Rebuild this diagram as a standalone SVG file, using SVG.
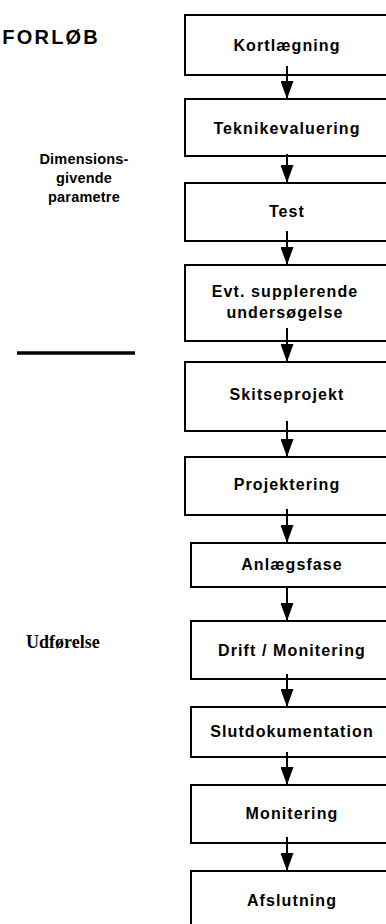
<svg xmlns="http://www.w3.org/2000/svg" width="386" height="924" viewBox="0 0 386 924">
<style>
.box{fill:#fff;stroke:#000;stroke-width:2}
.lbl{font-family:"Liberation Sans",Arial,sans-serif;font-weight:bold;font-size:16px;letter-spacing:1.1px;text-anchor:middle;fill:#000}
.side{font-family:"Liberation Sans",Arial,sans-serif;font-weight:bold;font-size:14.5px;letter-spacing:0.2px;text-anchor:middle;fill:#000}
.conn{stroke:#000;stroke-width:2;fill:none;marker-end:url(#ah)}
</style>
<defs>
<marker id="ah" markerUnits="userSpaceOnUse" viewBox="0 -6.5 18 13" refX="18" refY="0" markerWidth="18" markerHeight="13" orient="auto">
<path d="M0,-6.5 L18,0 L0,6.5 Z" fill="#000"/>
</marker>
</defs>
<rect width="386" height="924" fill="#fff"/>
<g id="title"><text x="100" y="44" font-family="'Liberation Sans',Arial,sans-serif" font-weight="bold" font-size="20" letter-spacing="2.2" text-anchor="end">FORLØB</text></g>
<g id="dim"><text class="side" x="84" y="164">Dimensions-</text><text class="side" x="84" y="183">givende</text><text class="side" x="84" y="202">parametre</text></g>
<g id="sep"><line x1="17" y1="353" x2="135" y2="353" stroke="#000" stroke-width="3.5"/></g>
<g id="udf"><text x="26" y="648" font-family="'Liberation Serif','Times New Roman',serif" font-weight="bold" font-size="18">Udførelse</text></g>
<g id="n1"><rect class="box" x="185" y="15" width="215" height="60"/><text class="lbl" x="287" y="51">Kortlægning</text></g>
<g id="n2"><rect class="box" x="185" y="99" width="215" height="57"/><text class="lbl" x="287" y="134">Teknikevaluering</text></g>
<g id="n3"><rect class="box" x="185" y="183" width="215" height="58"/><text class="lbl" x="287" y="217">Test</text></g>
<g id="n4"><rect class="box" x="185" y="265" width="215" height="76"/><text class="lbl" x="285" y="297">Evt. supplerende</text><text class="lbl" x="285" y="318">undersøgelse</text></g>
<g id="n5"><rect class="box" x="185" y="362" width="215" height="69"/><text class="lbl" x="287" y="400">Skitseprojekt</text></g>
<g id="n6"><rect class="box" x="185" y="457" width="215" height="58"/><text class="lbl" x="287" y="490">Projektering</text></g>
<g id="n7"><rect class="box" x="191" y="543" width="215" height="44"/><text class="lbl" x="292" y="570">Anlægsfase</text></g>
<g id="n8"><rect class="box" x="191" y="621" width="215" height="58"/><text class="lbl" x="292" y="656">Drift / Monitering</text></g>
<g id="n9"><rect class="box" x="191" y="707" width="215" height="50"/><text class="lbl" x="292" y="737">Slutdokumentation</text></g>
<g id="n10"><rect class="box" x="191" y="785" width="215" height="58"/><text class="lbl" x="292" y="819">Monitering</text></g>
<g id="n11"><rect class="box" x="191" y="871" width="215" height="70"/><text class="lbl" x="292" y="906">Afslutning</text></g>
<g id="connectors">
<line class="conn" x1="287" y1="66" x2="287" y2="99"/>
<line class="conn" x1="287" y1="154" x2="287" y2="183"/>
<line class="conn" x1="287" y1="231" x2="287" y2="265"/>
<line class="conn" x1="287" y1="328" x2="287" y2="362"/>
<line class="conn" x1="287" y1="421" x2="287" y2="457"/>
<line class="conn" x1="287" y1="509" x2="287" y2="543"/>
<line class="conn" x1="287" y1="587" x2="287" y2="621"/>
<line class="conn" x1="287" y1="674" x2="287" y2="707"/>
<line class="conn" x1="287" y1="752" x2="287" y2="785"/>
<line class="conn" x1="287" y1="837" x2="287" y2="871"/>
</g>
</svg>
